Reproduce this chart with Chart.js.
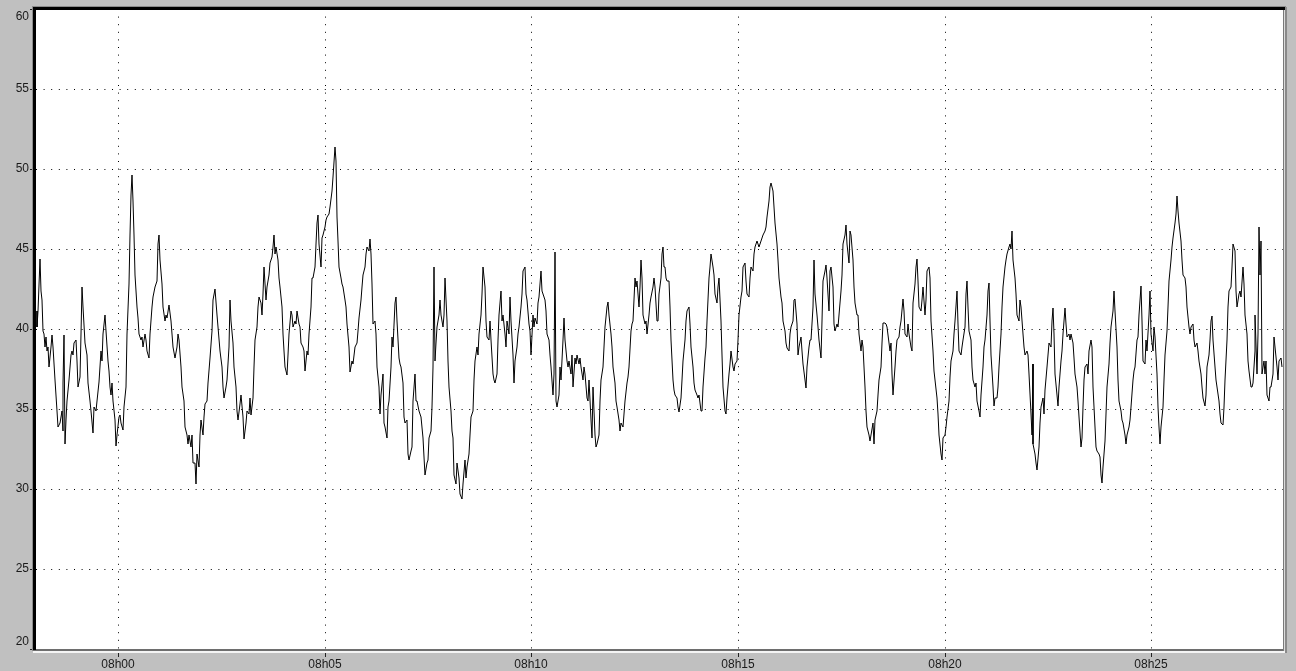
<!DOCTYPE html>
<html>
<head>
<meta charset="utf-8">
<script src="https://cdn.jsdelivr.net/npm/chart.js@4.4.1/dist/chart.umd.min.js"></script>
<style>
  html, body { margin: 0; padding: 0; background: #c0c0c0; overflow: hidden; }
  #c { display: block; }
</style>
</head>
<body>
<canvas id="c" width="1296" height="671"></canvas>
<script>
// Time axis: seconds relative to 08h00, one label every five minutes
const tickSeconds = [0, 300, 600, 900, 1200, 1500];
const tickLabels = ['08h00', '08h05', '08h10', '08h15', '08h20', '08h25'];
const valueTicks = [20, 25, 30, 35, 40, 45, 50, 55, 60];
const windowStart = -119.5;   // 07h58m00s
const windowEnd = 1691.3;     // 08h28m11s

// Recorded signal, [seconds from 08h00, value], in consecutive stretches
const from0758 = [[-118.5,41.1],[-117.6,40.1],[-116.1,41.1],[-113.7,44.4],[-112.3,42.4],[-110.8,41.8],[-109.8,39.9],[-107.9,39.7],[-106.4,38.9],[-105.0,39.5],[-104.0,38.6],[-101.6,38.9],[-100.1,37.6],[-98.2,38.9],[-95.8,39.6],[-94.3,38.9],[-91.9,36.8],[-89.5,34.9],[-87.1,33.9],[-84.7,34.1],[-82.2,34.9],[-80.8,33.6],[-79.8,36.6],[-78.9,39.6],[-77.9,32.8],[-75.9,34.3],[-74.0,35.5],[-71.1,36.8],[-69.2,38.4],[-67.2,38.6],[-65.3,38.4],[-63.8,39.1],[-61.9,39.3],[-60.5,38.0],[-58.0,36.4],[-55.6,37.0],[-54.2,39.7],[-52.2,42.6],[-50.8,41.4],[-48.4,39.1],[-45.9,38.4],[-43.5,36.6],[-41.1,35.5],[-39.2,34.9],[-37.2,33.5],[-35.3,35.1],[-32.9,34.9],[-30.4,35.5],[-28.0,36.7],[-25.6,38.6],[-23.2,38.0],[-21.7,39.7],[-19.8,40.9],[-17.9,39.9],[-15.4,38.0],[-13.5,37.4],[-12.0,36.4],[-10.1,35.9],[-8.7,36.6],[-7.2,35.5],[-4.8,34.3],[-2.9,32.7],[-1.4,33.4],[0.5,34.5],[2.5,34.6],[4.4,34.1],[6.3,33.7],[8.3,35.1],[10.7,36.4],[13.1,39.7],[15.1,42.8],[17.0,45.9],[18.4,48.4],[19.4,49.6],[20.9,48.0],[22.8,45.9],[24.7,43.4],[26.7,41.4],[28.6,40.7],[30.5,39.7],[32.5,39.3],[34.4,39.5],[36.4,38.9],[38.3,39.7],[40.2,39.3],[42.2,38.6],[44.6,38.2],[46.5,39.7],[49.0,41.4],[50.9,42.0],[53.3,42.6],[55.7,43.0],[57.2,45.3],[58.6,45.9],[60.6,44.3],[63.0,42.8],[65.4,41.4],[67.3,40.5],[69.3,40.9],[71.2,40.7],[74.1,41.5],[76.0,40.5],[79.0,38.9],[81.9,38.2],[84.8,38.9],[86.7,39.7],[88.6,39.3],[90.6,37.6],[93.0,36.4],[95.4,35.5],[97.3,33.9],[99.3,33.4],[101.2,32.8],[103.1,33.4],[105.1,32.6],[107.0,33.4],[109.0,31.6],[110.9,31.6],[112.8,30.3],[114.8,32.2],[116.7,31.4],[118.6,33.4],[120.6,34.3],[122.5,33.4],[124.5,34.5],[126.4,35.3],[128.3,35.5],[130.3,36.6],[133.2,38.2],[135.6,39.9],[138.0,41.8],[140.4,42.5],[142.8,40.9],[145.3,40.1],[147.7,38.6],[150.1,37.6],[152.5,36.4],[154.0,35.7],[155.9,36.4],[158.3,36.8],[160.3,38.9],[162.2,41.8],[164.1,40.5],[166.1,39.1],[168.0,37.6],[170.4,36.4],[172.4,34.9],[174.3,34.3],[176.7,35.3],[178.7,35.9],[180.6,34.5],[182.5,33.1]];

const from0803 = [[184.9,34.1],[187.4,34.9],[189.8,34.7],[191.2,35.7],[193.2,34.6],[195.1,35.7],[197.0,37.6],[199.0,39.3],[200.9,40.1],[202.9,41.4],[204.8,42.0],[206.7,41.6],[208.2,40.9],[210.1,42.2],[212.1,43.9],[214.0,41.8],[215.9,42.6],[218.3,43.4],[220.3,44.1],[222.7,44.5],[224.2,45.1],[225.6,45.9],[227.5,44.7],[229.5,45.1],[231.4,44.3],[233.4,43.2],[235.3,42.6],[237.2,41.4],[238.7,39.7],[240.6,38.6],[242.6,37.6],[244.5,37.1],[246.4,38.4],[248.4,39.7],[250.3,41.1],[252.2,40.9],[254.2,40.1],[256.1,40.5],[258.0,40.3],[260.0,41.1],[261.9,40.3],[263.8,40.1],[265.8,39.1],[267.7,38.9],[269.7,38.6],[271.6,37.4],[273.5,38.6],[275.5,38.4],[277.4,39.7],[279.3,41.4],[281.3,43.2],[283.2,43.2],[285.1,43.9],[287.1,45.3],[289.0,46.6],[290.5,47.1],[291.9,45.3],[293.9,43.9],[295.8,45.7],[297.7,45.9],[299.7,46.4],[301.6,46.8],[303.5,47.0],[305.5,47.2],[307.4,47.6],[310.3,48.6],[312.3,49.5],[314.2,51.4],[316.1,50.5],[317.6,47.0],[319.0,45.5],[321.0,43.9],[322.9,43.2],[324.8,42.8],[326.8,42.6],[328.7,41.8],[330.6,41.4],[332.6,40.3],[334.5,38.9],[336.4,37.3],[338.9,38.0],[341.3,37.8],[343.7,38.9],[346.1,39.1],[348.1,39.9],[350.0,40.7],[351.9,41.8],[353.9,42.6],[355.8,43.4],[357.7,43.9],[359.7,44.7],[361.6,45.1],[363.5,44.9],[365.0,45.6],[366.5,44.7],[368.4,42.8],[370.3,40.3],[372.3,40.5],[374.2,39.7],[376.1,37.6],[378.1,36.4],[380.0,34.7],[382.0,35.9],[383.9,37.2],[385.8,34.1],[387.8,33.9],[389.7,33.2],[391.6,35.1],[393.6,35.5],[395.5,37.6],[397.4,39.5],[399.4,38.9],[401.3,41.6],[403.3,42.0],[405.2,40.5],[407.1,38.2],[409.1,37.8],[411.0,37.6],[412.9,36.6],[414.9,34.5],[416.8,34.1],[418.7,34.3],[420.7,32.2],[422.6,31.8],[424.5,32.4],[426.5,32.6],[428.4,35.5],[430.4,37.2],[432.3,35.5],[434.2,35.5],[436.2,34.9],[438.1,34.7],[440.0,34.5],[442.0,33.2],[443.9,32.0],[445.8,30.9],[447.8,31.6],[449.7,31.8],[451.6,33.2],[453.6,33.6],[455.5,35.1],[457.5,37.6],[458.4,43.9],[459.4,38.0],[461.3,39.1],[463.3,40.1],[465.2,40.9],[467.1,41.8],[469.1,40.9],[471.0,40.1],[472.9,40.9],[474.9,43.2],[476.8,40.5],[478.7,38.0],[480.7,36.4],[482.6,34.9],[484.6,33.6],[486.5,33.2],[488.0,30.9]];

const from0808 = [[490.4,30.3],[492.3,31.6],[494.2,30.7],[496.2,29.7],[498.6,29.4],[501.0,30.3],[503.0,31.8],[504.9,30.7],[506.8,31.4],[508.8,32.2],[510.7,33.4],[512.6,34.5],[514.6,34.9],[516.5,36.8],[518.4,38.0],[520.4,38.9],[522.3,38.4],[524.3,39.7],[526.2,40.9],[528.1,42.2],[530.1,43.9],[532.0,42.6],[533.9,40.5],[535.9,39.5],[537.8,39.3],[539.7,40.5],[541.7,39.3],[543.6,37.2],[545.6,36.8],[547.5,36.6],[549.4,37.2],[551.4,39.3],[553.3,40.9],[555.2,42.4],[557.2,40.5],[559.1,40.9],[561.0,39.7],[563.0,38.9],[564.9,40.5],[566.8,39.7],[568.8,42.0],[570.7,40.5],[572.7,38.4],[574.6,36.6],[576.5,38.0],[578.5,38.9],[580.4,39.7],[582.3,40.1],[584.3,41.4],[586.2,42.2],[588.1,43.6],[590.1,43.9],[592.0,42.2],[594.0,41.8],[595.9,40.3],[597.8,39.9],[599.8,38.4],[601.7,40.9],[603.6,40.1],[605.6,40.7],[607.5,40.3],[609.4,41.6],[611.4,42.0],[613.3,43.6],[615.2,42.4],[617.2,42.2],[619.1,41.8],[621.1,41.1],[623.0,39.7],[624.9,39.3],[626.9,38.4],[628.8,37.6],[630.7,35.9],[632.7,37.2],[634.1,44.8],[635.6,35.5],[637.5,35.1],[639.5,35.9],[641.4,37.6],[643.3,36.8],[645.3,39.3],[647.2,40.7],[649.1,39.3],[651.1,38.0],[653.0,37.6],[654.9,38.0],[656.9,37.2],[658.8,38.4],[660.8,36.4],[662.7,38.2],[664.6,37.8],[666.6,38.4],[668.5,37.8],[670.4,38.2],[672.4,37.6],[674.3,36.8],[676.2,37.6],[678.2,37.2],[680.1,35.7],[682.1,35.5],[684.0,36.8],[685.9,34.3],[687.9,33.2],[689.8,36.4],[691.7,33.4],[693.7,32.6],[695.6,32.8],[697.5,33.4],[699.5,35.5],[701.4,36.8],[703.3,37.6],[705.3,38.9],[707.2,40.1],[709.2,41.4],[711.1,41.7],[713.0,40.9],[715.0,39.7],[716.9,38.9],[718.8,37.6],[720.8,36.6],[722.7,35.5],[724.6,35.1],[726.6,34.3],[728.5,33.6],[730.5,34.1],[732.4,33.9],[734.3,34.7],[736.3,35.5],[738.2,36.6],[740.1,37.0],[742.1,37.6],[744.0,39.9],[745.9,40.3],[747.9,40.5],[749.8,43.2],[751.8,42.6],[753.7,43.0],[755.6,41.4],[757.6,42.6],[759.0,44.3],[760.5,43.2],[762.4,40.9],[764.3,40.3],[766.3,40.5],[768.2,39.7],[770.1,40.9],[772.1,41.6],[774.0,42.0],[776.0,42.6],[777.9,43.2],[779.8,42.6],[781.8,40.5],[783.7,40.5],[785.6,42.2],[787.6,43.2],[789.5,44.7],[791.0,45.1],[792.4,43.9]];

const from0813 = [[793.4,43.9],[795.3,43.2],[797.2,43.0],[799.2,43.0],[801.1,41.4],[803.1,39.3],[805.0,36.8],[806.9,36.2],[808.9,35.9],[810.8,35.7],[812.7,35.1],[814.7,34.8],[816.6,35.7],[818.5,36.8],[820.5,38.0],[822.4,39.3],[824.4,40.5],[826.3,41.1],[828.2,41.4],[830.2,40.3],[832.1,38.9],[834.0,37.6],[836.0,36.6],[837.9,36.2],[839.8,35.9],[841.8,35.7],[843.7,35.9],[845.7,34.9],[847.6,34.9],[849.5,36.4],[851.5,38.2],[853.4,38.9],[855.3,40.5],[857.3,43.2],[859.2,43.9],[861.1,44.7],[863.1,43.9],[865.0,43.4],[867.0,42.2],[868.9,41.6],[870.8,42.6],[872.8,43.2],[874.7,40.5],[876.6,38.4],[878.6,36.4],[880.5,34.9],[882.4,34.7],[884.4,35.7],[886.3,37.2],[888.2,37.8],[890.2,38.6],[892.1,37.6],[894.1,37.4],[896.0,37.8],[897.9,38.0],[899.9,39.3],[901.8,40.9],[903.7,42.0],[905.7,42.4],[907.6,43.9],[909.5,44.1],[911.5,43.0],[913.4,42.2],[915.4,42.0],[917.3,43.2],[919.2,43.9],[921.2,43.6],[923.1,44.7],[925.0,45.1],[927.0,45.5],[928.9,45.3],[930.8,45.1],[932.8,45.5],[934.7,45.7],[936.7,45.9],[938.6,46.1],[940.5,46.4],[942.5,47.0],[944.4,48.0],[946.3,48.9],[948.3,49.1],[950.2,48.6],[952.1,47.6],[954.1,46.6],[956.0,45.3],[957.9,44.3],[959.9,43.2],[961.8,42.0],[963.8,41.6],[965.7,40.5],[967.6,39.9],[969.6,39.1],[971.5,38.8],[973.4,38.6],[975.4,39.7],[977.3,40.1],[979.2,40.5],[981.2,41.8],[983.1,41.9],[985.1,40.3],[987.0,38.4],[988.9,38.9],[990.9,39.5],[992.8,38.6],[994.7,37.8],[996.7,36.8],[998.6,36.3],[1000.5,37.6],[1002.5,38.9],[1004.4,39.3],[1006.4,39.3],[1008.3,41.4],[1010.2,44.3],[1012.2,42.2],[1014.1,40.9],[1016.0,40.1],[1018.0,39.3],[1019.9,38.2],[1021.8,40.5],[1023.8,43.0],[1025.7,43.6],[1027.6,44.0],[1029.6,43.2],[1031.5,41.1],[1033.5,43.6],[1035.4,43.9],[1037.3,42.6],[1039.3,40.3],[1041.2,39.9],[1043.1,40.3],[1045.1,40.1],[1047.0,40.9],[1048.9,42.4],[1050.9,43.4],[1052.8,45.3],[1054.8,45.9],[1056.7,46.5],[1058.6,45.3],[1060.6,44.1],[1062.5,46.1],[1064.4,45.9],[1066.4,44.3],[1068.3,42.6],[1070.2,41.6],[1072.2,40.9],[1074.1,40.9],[1076.0,39.7],[1078.0,38.6],[1079.9,39.3],[1081.9,38.9],[1083.8,36.4],[1085.7,34.9],[1087.7,33.9],[1089.6,33.4],[1091.5,33.0],[1093.5,33.4],[1095.4,34.1],[1097.3,32.8]];

const from0818 = [[1098.8,34.3],[1101.2,34.9],[1103.2,35.9],[1105.1,36.8],[1107.0,37.6],[1109.0,39.1],[1110.9,40.4],[1112.8,40.4],[1114.8,40.3],[1116.7,40.1],[1118.6,39.1],[1120.6,38.6],[1122.5,39.1],[1123.5,37.2],[1125.4,35.9],[1127.4,37.6],[1129.3,38.6],[1131.2,39.3],[1133.2,39.5],[1135.1,40.1],[1137.0,40.5],[1139.0,41.9],[1140.9,41.1],[1142.9,39.7],[1144.8,39.5],[1146.7,40.3],[1148.7,39.7],[1150.6,38.9],[1152.5,38.6],[1154.5,41.6],[1156.4,42.8],[1158.3,43.9],[1159.8,44.4],[1161.2,43.0],[1163.2,41.4],[1165.1,41.1],[1167.1,41.8],[1169.0,42.6],[1170.9,40.9],[1172.9,41.8],[1174.8,43.6],[1176.7,43.9],[1178.7,43.2],[1180.6,40.5],[1182.5,38.6],[1184.5,37.4],[1186.4,36.8],[1188.3,35.7],[1190.3,34.7],[1192.2,33.4],[1194.2,32.2],[1196.1,31.8],[1198.0,33.2],[1200.0,33.4],[1201.9,33.9],[1203.8,34.5],[1205.8,35.5],[1207.7,37.0],[1209.6,38.0],[1211.6,38.6],[1213.5,39.7],[1215.4,40.5],[1217.4,42.4],[1219.3,40.3],[1221.3,38.6],[1223.2,38.4],[1225.1,38.9],[1227.1,39.3],[1229.0,40.1],[1230.9,42.2],[1231.9,43.0],[1233.8,41.4],[1235.8,39.9],[1237.7,39.3],[1239.7,37.6],[1241.6,36.8],[1243.5,36.4],[1245.5,36.6],[1247.4,35.5],[1249.3,34.9],[1251.3,34.5],[1253.2,35.9],[1255.1,37.6],[1257.1,38.9],[1259.0,39.3],[1261.0,40.9],[1262.9,42.4],[1264.3,42.9],[1265.8,40.5],[1267.7,38.4],[1269.7,36.4],[1271.6,35.2],[1273.5,35.7],[1275.5,35.7],[1277.4,36.4],[1279.3,37.6],[1281.3,39.7],[1283.2,41.4],[1285.2,42.6],[1287.1,43.9],[1289.0,44.3],[1291.0,44.7],[1292.9,45.1],[1294.8,45.3],[1296.3,45.0],[1297.7,46.1],[1299.7,44.3],[1301.6,43.2],[1303.5,42.2],[1305.5,40.9],[1307.4,40.5],[1309.4,41.8],[1311.3,41.4],[1313.2,39.7],[1315.2,38.9],[1317.1,38.4],[1319.0,38.6],[1321.0,38.4],[1322.9,37.2],[1324.8,34.7],[1326.8,33.4],[1327.7,37.8],[1328.7,32.8],[1330.7,32.2],[1332.6,31.6],[1334.5,31.2],[1336.5,32.6],[1338.4,34.1],[1340.3,35.1],[1342.3,35.7],[1344.2,34.7],[1346.1,36.2],[1348.1,37.6],[1350.0,38.4],[1352.0,39.1],[1353.9,38.9],[1355.8,40.5],[1357.3,41.3],[1358.7,39.7],[1360.7,37.2],[1362.6,35.9],[1364.5,35.2],[1366.5,36.4],[1368.4,38.0],[1370.3,38.6],[1372.3,39.7],[1374.2,41.3],[1376.1,40.3],[1378.1,39.5],[1380.0,39.7],[1382.0,39.3],[1383.9,39.7],[1385.8,39.1],[1387.8,38.2],[1389.7,37.2],[1391.6,36.4],[1393.6,35.5],[1395.5,34.5],[1397.5,32.6],[1399.4,33.2],[1401.3,35.1],[1402.8,36.8]];

const from0823 = [[1404.2,37.6],[1406.2,37.8],[1408.1,37.2],[1410.0,38.6],[1412.0,39.3],[1413.9,38.9],[1415.8,36.4],[1417.8,33.9],[1419.7,32.6],[1421.7,32.4],[1423.6,32.2],[1425.5,32.0],[1427.5,30.9],[1428.9,30.4],[1430.4,31.4],[1432.3,33.0],[1434.2,34.7],[1436.2,36.4],[1438.1,37.8],[1440.0,39.1],[1442.0,40.1],[1443.9,41.1],[1445.9,42.4],[1447.8,41.1],[1449.7,38.9],[1451.7,36.8],[1453.6,35.5],[1455.5,34.9],[1457.5,34.3],[1459.4,34.1],[1461.3,33.4],[1463.3,32.8],[1465.2,33.4],[1467.2,33.9],[1469.1,34.3],[1471.0,35.1],[1473.0,36.8],[1474.9,37.4],[1476.8,37.6],[1478.8,39.3],[1480.7,39.5],[1482.6,40.9],[1484.6,42.7],[1486.5,40.5],[1488.4,38.0],[1490.4,37.8],[1492.3,39.3],[1494.2,38.6],[1496.2,40.9],[1498.1,42.4],[1500.1,39.7],[1502.0,38.6],[1503.9,40.1],[1505.9,39.5],[1507.8,37.2],[1509.7,35.1],[1511.7,33.9],[1513.1,32.8],[1514.6,33.9],[1516.5,35.1],[1518.5,36.8],[1520.4,38.4],[1522.3,39.9],[1524.3,41.4],[1526.2,43.0],[1528.1,44.3],[1530.1,45.1],[1532.0,45.7],[1533.9,46.6],[1535.9,47.2],[1537.3,48.3],[1538.8,47.4],[1540.7,46.6],[1542.7,45.5],[1544.6,44.3],[1546.5,43.4],[1548.5,43.2],[1550.4,42.6],[1552.3,41.4],[1554.3,40.1],[1556.2,39.7],[1558.2,40.1],[1560.1,40.3],[1562.0,39.3],[1564.0,38.9],[1565.9,39.1],[1567.8,38.6],[1569.8,38.0],[1571.7,37.2],[1573.6,36.4],[1575.6,35.7],[1577.5,35.2],[1579.4,35.9],[1581.4,37.6],[1583.3,38.4],[1585.3,39.3],[1587.2,40.5],[1588.6,40.8],[1590.1,39.3],[1592.0,37.6],[1594.0,36.8],[1595.9,36.4],[1597.8,35.5],[1599.8,34.7],[1601.7,34.1],[1603.6,34.0],[1605.6,35.1],[1607.5,36.8],[1609.5,39.3],[1611.4,41.4],[1613.3,42.4],[1615.3,42.6],[1617.2,43.9],[1619.1,45.3],[1621.1,44.9],[1623.0,42.4],[1624.9,41.4],[1626.9,42.2],[1628.8,42.4],[1630.8,42.0],[1632.7,43.9],[1634.6,42.8],[1636.6,40.9],[1638.5,39.7],[1640.4,38.0],[1642.4,37.4],[1644.3,36.4],[1646.2,36.4],[1648.2,36.6],[1650.1,38.6],[1651.1,40.9],[1653.0,37.2],[1655.0,39.7],[1655.9,46.4],[1657.9,43.4],[1658.8,45.5],[1660.8,37.2],[1661.7,37.6],[1663.7,38.0],[1665.6,37.2],[1666.6,38.0],[1668.5,35.9],[1670.4,35.5],[1672.4,36.4],[1674.3,36.4],[1676.3,37.2],[1678.2,39.5],[1680.1,38.9],[1682.1,37.6],[1684.0,36.8],[1685.9,38.0],[1687.9,38.2],[1689.8,37.6]];

const stretches = [from0758, from0803, from0808, from0813, from0818, from0823];
const points = stretches.flat().map(([t, v]) => ({ x: t, y: v }));

const labelFont = { family: 'Liberation Sans, Arial, sans-serif', size: 12 };
const labelColor = '#1a1a1a';

// Grey window background, white plot and a sunken 3D frame round it
const panelFrame = {
  id: 'panelFrame',
  beforeDraw(chart) {
    const { ctx, chartArea: a } = chart;
    ctx.save();
    ctx.fillStyle = '#c0c0c0';
    ctx.fillRect(0, 0, chart.width, chart.height);
    ctx.fillStyle = '#ffffff';
    ctx.fillRect(a.left, a.top, a.right - a.left, a.bottom - a.top);
    ctx.restore();
  },
  afterDraw(chart) {
    const { ctx, chartArea: a } = chart;
    const L = a.left, T = a.top, R = a.right, B = a.bottom;
    ctx.save();
    // bottom edge: dark line then light highlight
    ctx.fillStyle = '#6e6e6e';
    ctx.fillRect(L - 3, B, R - L + 6, 2);
    ctx.fillStyle = '#f4f4f4';
    ctx.fillRect(L - 3, B + 2, R - L + 6, 2);
    // right edge
    ctx.fillStyle = '#7a7a7a';
    ctx.fillRect(R, T - 2, 1, B - T + 4);
    ctx.fillStyle = '#dcdcdc';
    ctx.fillRect(R + 1, T - 2, 1, B - T + 4);
    ctx.fillStyle = '#8a8a8a';
    ctx.fillRect(R + 2, T - 2, 2, B - T + 6);
    // top edge: grey then black
    ctx.fillStyle = '#8c8c8c';
    ctx.fillRect(L - 4, T - 3, R - L + 7, 1);
    ctx.fillStyle = '#000000';
    ctx.fillRect(L - 3, T - 2, R - L + 5, 3);
    // left edge: grey then thick black
    ctx.fillStyle = '#8c8c8c';
    ctx.fillRect(L - 4, T - 3, 1, B - T + 5);
    ctx.fillStyle = '#000000';
    ctx.fillRect(L - 3, T - 2, 3, B - T + 3);
    ctx.restore();
  }
};

new Chart(document.getElementById('c'), {
  type: 'line',
  data: {
    datasets: [{
      data: points,
      borderColor: '#000000',
      borderWidth: 1,
      pointRadius: 0,
      pointHoverRadius: 0,
      tension: 0,
      fill: false
    }]
  },
  options: {
    responsive: false,
    animation: false,
    devicePixelRatio: 1,
    events: [],
    layout: { padding: { left: 0, top: 9, right: 13, bottom: 0 } },
    plugins: { legend: { display: false }, tooltip: { enabled: false } },
    scales: {
      x: {
        type: 'linear',
        min: windowStart,
        max: windowEnd,
        alignToPixels: true,
        afterBuildTicks: axis => { axis.ticks = tickSeconds.map(v => ({ value: v })); },
        afterFit: axis => { axis.height = 22; axis.paddingLeft = 0; axis.paddingRight = 0; },
        ticks: {
          autoSkip: false,
          maxRotation: 0,
          padding: 0,
          color: labelColor,
          font: labelFont,
          callback: v => tickLabels[tickSeconds.indexOf(v)]
        },
        grid: {
          color: '#000000',
          lineWidth: 1,
          tickLength: 8,
          tickColor: '#222',
          tickWidth: 1,
          tickBorderDash: []
        },
        border: { display: false, dash: [1, 6.6] }
      },
      y: {
        type: 'linear',
        min: 20,
        max: 60,
        alignToPixels: true,
        afterBuildTicks: axis => { axis.ticks = valueTicks.map(v => ({ value: v })); },
        afterFit: axis => { axis.width = 36; axis.paddingTop = 0; axis.paddingBottom = 0; },
        ticks: {
          padding: 1,
          color: labelColor,
          font: labelFont,
          callback: v => v === 60 ? ['', '60'] : (v === 20 ? ['20', ''] : String(v))
        },
        grid: {
          color: '#000000',
          lineWidth: 1,
          tickLength: 6,
          tickColor: '#222',
          tickWidth: 1,
          tickBorderDash: []
        },
        border: { display: false, dash: [1, 6.6] }
      }
    }
  },
  plugins: [panelFrame]
});
</script>
</body>
</html>
